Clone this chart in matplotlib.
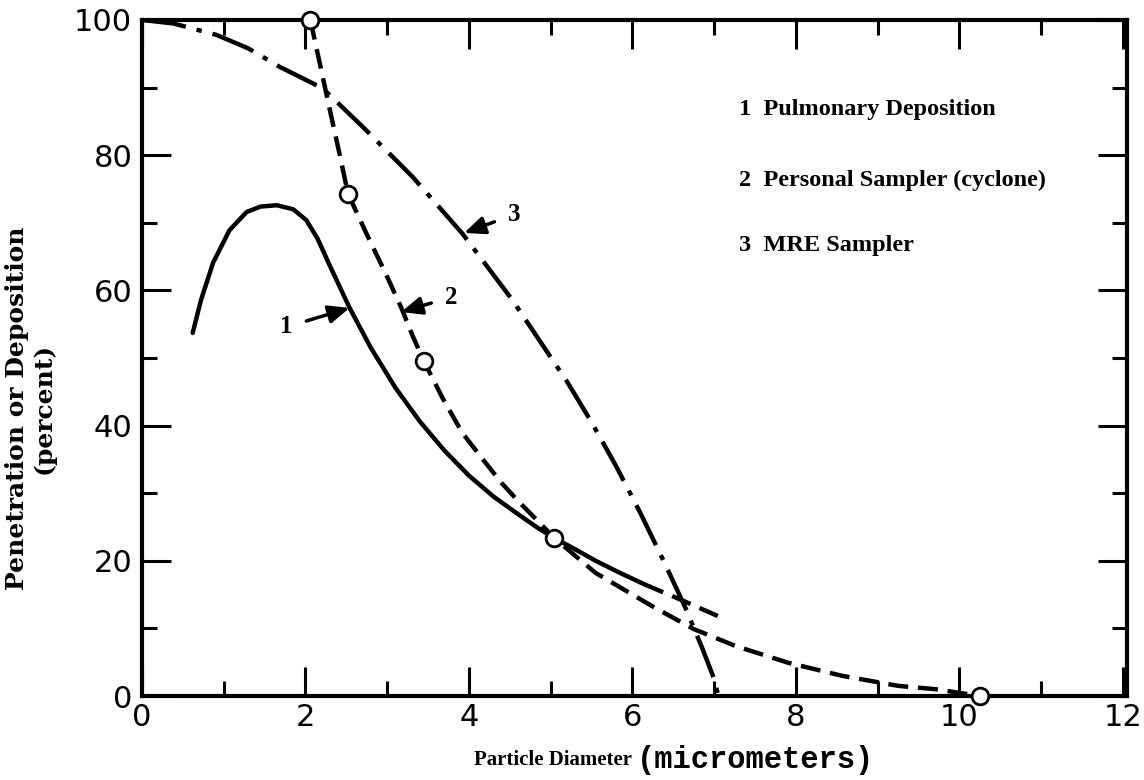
import matplotlib
matplotlib.use("Agg")
import matplotlib.pyplot as plt

# ---- data ----
# curve 1: pulmonary deposition (solid, dashed extension)
x1 = [0.62, 0.72, 0.87, 1.07, 1.28, 1.45, 1.65, 1.85, 2.01, 2.15, 2.30, 2.54, 2.80,
      3.10, 3.40, 3.70, 4.00, 4.30, 4.60, 4.85, 5.04, 5.30, 5.55, 5.85, 6.15]
y1 = [53.7, 58.5, 64.1, 68.9, 71.6, 72.4, 72.6, 72.0, 70.4, 67.6, 63.6, 57.4, 51.5,
      45.6, 40.6, 36.3, 32.6, 29.5, 26.9, 24.8, 23.4, 21.7, 20.0, 18.2, 16.5]
x1_ext = [6.15, 6.60, 7.05]
y1_ext = [16.5, 14.2, 11.8]

# curve 2: personal sampler (cyclone), dashed with measured points
x2 = [2.06, 2.18, 2.30, 2.42, 2.52, 2.75, 3.00, 3.17, 3.31, 3.45, 3.68, 3.92, 4.17,
      4.40, 4.62, 4.85, 5.04, 5.55, 6.24, 6.75, 7.26, 7.91, 8.56, 9.25, 9.71, 10.25]
y2 = [100.0, 93.3, 86.6, 80.0, 74.3, 68.3, 62.0, 57.5, 53.3, 49.5, 44.0, 38.9, 35.0,
      31.5, 28.6, 25.8, 23.4, 18.2, 13.3, 9.9, 7.4, 4.9, 3.0, 1.5, 1.0, 0.0]
x2_pts = [2.06, 2.52, 3.45, 5.04, 10.25]
y2_pts = [100.0, 74.3, 49.5, 23.4, 0.0]

# curve 3: MRE sampler (dash-dot)
x3 = [0.0, 0.38, 0.91, 1.30, 1.68, 2.21, 2.70, 3.31, 3.92, 4.53, 5.20, 5.50, 5.80,
      6.10, 6.40, 6.65, 6.85, 7.00, 7.05]
y3 = [100.0, 99.5, 97.8, 95.8, 93.1, 89.9, 84.2, 76.8, 68.4, 58.6, 46.5, 40.5, 34.0,
      27.0, 19.5, 13.0, 7.2, 2.5, 0.0]

# arrow labels: (label, text x, text y, tip x, tip y)
arrow_labels = ["1", "2", "3"]
arrow_text_x = [1.77, 3.78, 4.55]
arrow_text_y = [54.6, 59.0, 71.2]
arrow_tip_x = [2.54, 3.17, 3.94]
arrow_tip_y = [57.4, 56.8, 68.5]

legend_lines = ["1  Pulmonary Deposition",
                "2  Personal Sampler (cyclone)",
                "3  MRE Sampler"]
legend_y = [86.7, 76.3, 66.7]
legend_x = 7.30

xticks_major = [0, 2, 4, 6, 8, 10, 12]
xticks_minor = [1, 3, 5, 7, 9, 11]
yticks_major = [0, 20, 40, 60, 80, 100]
yticks_minor = [10, 30, 50, 70, 90]

SERIF = ["Liberation Serif", "DejaVu Serif"]
WIDE_SERIF = ["DejaVu Serif"]
MONO = ["Liberation Mono", "DejaVu Sans Mono"]

W, H = 1144, 780
fig = plt.figure(figsize=(W / 100, H / 100), dpi=100)
ax = fig.add_axes([142 / W, (H - 696) / H, (1127 - 142) / W, (696 - 20) / H])
ax.set_xlim(0, 12.05)
ax.set_ylim(0, 100)

LW = 3.2
ax.plot(x1, y1, color="black", lw=LW, solid_capstyle="round",
        solid_joinstyle="round", zorder=3)
ax.plot(x1_ext, y1_ext, color="black", lw=LW, dashes=(4.5, 2.2), zorder=3)
ax.plot(x2, y2, color="black", lw=LW, dashes=(4.5, 2.2), zorder=3)
ax.plot(x3, y3, color="black", lw=LW, dashes=(10, 2.5, 1.2, 2.5), zorder=3)
ax.plot(x2_pts, y2_pts, linestyle="none", marker="o", ms=12, mfc="white",
        mec="black", mew=2.0, zorder=5, clip_on=False)

for lab, tx, ty, px, py in zip(arrow_labels, arrow_text_x, arrow_text_y,
                               arrow_tip_x, arrow_tip_y):
    ax.annotate(lab, xy=(px, py), xytext=(tx, ty), ha="center", va="center",
                fontsize=18, fontweight="bold", family=SERIF,
                arrowprops=dict(arrowstyle="-|>,head_length=0.7,head_width=0.3",
                                color="black", lw=2.5, shrinkA=8, shrinkB=0))

for txt, ly in zip(legend_lines, legend_y):
    ax.text(legend_x, ly, txt, ha="left", va="center", fontsize=17.5,
            fontweight="bold", family=SERIF)

for s in ax.spines.values():
    s.set_linewidth(3.0)
ax.set_xticks(xticks_major)
ax.set_xticks(xticks_minor, minor=True)
ax.set_yticks(yticks_major)
ax.set_yticks(yticks_minor, minor=True)
ax.tick_params(which="major", direction="in", length=21, width=2.2,
               top=True, right=True, labelsize=22)
ax.tick_params(which="minor", direction="in", length=11, width=2.2,
               top=True, right=True)
ax.tick_params(axis="y", pad=7)
ax.tick_params(axis="x", pad=5)
ax.set_xticklabels([str(v) for v in xticks_major], family="DejaVu Sans")
ax.set_yticklabels([str(v) for v in yticks_major], family="DejaVu Sans")

# axis titles
fig.text(637 / W, 1 - 760 / H, "Particle Diameter ", ha="right", va="center",
         fontsize=15, fontweight="bold", family=SERIF)
fig.text(637 / W, 1 - 760 / H, "(micrometers)", ha="left", va="center",
         fontsize=22, fontweight="bold", family=MONO)
fig.text(30 / W, 1 - 408 / H, "Penetration or Deposition\n(percent)",
         ha="center", va="center", rotation=90, fontsize=18,
         fontweight="bold", family=WIDE_SERIF, linespacing=1.15)

fig.savefig("out.png", dpi=100)
